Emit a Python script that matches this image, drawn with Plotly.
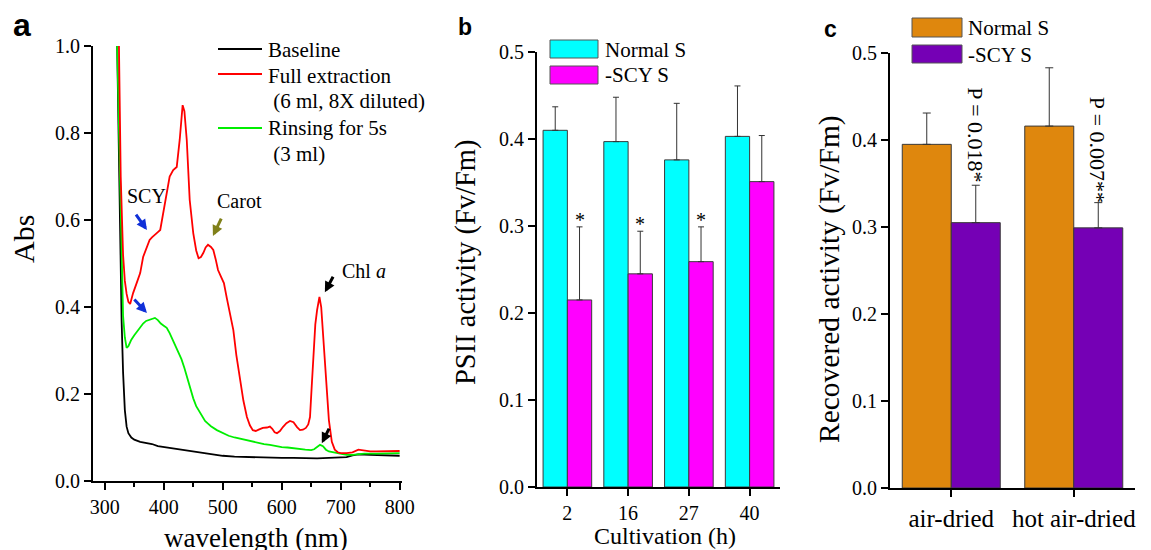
import plotly.graph_objects as go

W, H = 1151, 550
OFF = 8  # the page body has an 8px margin; positions below are in window pixels

# ---------------- Panel a : absorption spectra ----------------
base_nm = [321, 325, 328.5, 331, 334, 337, 340, 345, 350, 360, 370, 380, 390, 400, 410, 420, 430, 440,
           450, 460, 470, 480, 490, 500, 520, 540, 560, 580, 600, 620, 640, 660, 680, 700, 710, 720,
           730, 750, 770, 800]
base_abs = [1.0, 0.65, 0.37, 0.25, 0.163, 0.125, 0.11, 0.1, 0.095, 0.09, 0.088, 0.085, 0.08, 0.078,
            0.077, 0.074, 0.072, 0.07, 0.068, 0.066, 0.064, 0.062, 0.06, 0.058, 0.056, 0.055, 0.054,
            0.054, 0.053, 0.053, 0.052, 0.052, 0.053, 0.054, 0.055, 0.059, 0.061, 0.06, 0.059, 0.058]

full_nm = [324, 327, 331, 334, 337, 340, 343, 348, 354, 360, 365, 370, 376, 380, 385, 390, 394, 399,
           405, 410, 416, 422, 427, 430, 432, 435, 439, 444, 450, 455, 459, 463, 467, 471, 475, 480,
           484, 488, 492, 497, 502, 507, 512, 518, 523, 529, 535, 541, 546, 551, 556, 561, 568, 575,
           580, 584, 588, 592, 597, 602, 608, 614, 620, 626, 631, 636, 641, 645, 648, 651, 654, 657,
           660, 664, 667, 670, 673, 676, 680, 685, 690, 695, 700, 710, 720, 730, 740, 750, 760, 780, 800]
full_abs = [1.0, 0.70, 0.52, 0.46, 0.43, 0.412, 0.407, 0.432, 0.455, 0.478, 0.515, 0.535, 0.554, 0.56,
            0.565, 0.572, 0.577, 0.616, 0.669, 0.70, 0.715, 0.722, 0.784, 0.83, 0.864, 0.85, 0.784,
            0.646, 0.57, 0.53, 0.512, 0.515, 0.524, 0.537, 0.543, 0.538, 0.531, 0.51, 0.485, 0.47,
            0.455, 0.42, 0.385, 0.347, 0.29, 0.232, 0.185, 0.147, 0.128, 0.117, 0.115, 0.118, 0.122,
            0.123, 0.125, 0.12, 0.112, 0.11, 0.115, 0.124, 0.133, 0.138, 0.135, 0.124, 0.117, 0.118,
            0.122, 0.13, 0.147, 0.22, 0.30, 0.36, 0.393, 0.423, 0.40, 0.34, 0.28, 0.21, 0.14, 0.09,
            0.072, 0.066, 0.064, 0.064, 0.066, 0.072, 0.07, 0.068, 0.068, 0.068, 0.069]

rinse_nm = [321, 325, 328.5, 331, 334, 337, 340, 345, 350, 355, 360, 365, 370, 375, 380, 385, 390, 395,
            400, 405, 410, 415, 420, 425, 430, 435, 440, 445, 450, 455, 460, 465, 470, 475, 480, 490,
            500, 510, 520, 530, 540, 550, 560, 570, 580, 590, 600, 610, 620, 630, 640, 650, 655, 660,
            665, 670, 675, 680, 690, 700, 710, 720, 730, 740, 760, 780, 800]
rinse_abs = [1.0, 0.72, 0.49, 0.38, 0.33, 0.306, 0.31, 0.325, 0.335, 0.345, 0.355, 0.362, 0.368, 0.37,
             0.373, 0.375, 0.37, 0.362, 0.357, 0.352, 0.34, 0.325, 0.31, 0.295, 0.28, 0.26, 0.235,
             0.21, 0.19, 0.172, 0.16, 0.148, 0.138, 0.132, 0.126, 0.117, 0.11, 0.104, 0.1, 0.097,
             0.093, 0.09, 0.087, 0.085, 0.083, 0.08, 0.078, 0.077, 0.075, 0.074, 0.072, 0.071, 0.073,
             0.078, 0.083, 0.08, 0.072, 0.068, 0.065, 0.062, 0.06, 0.06, 0.062, 0.063, 0.063, 0.064, 0.064]

spectra_names = ["Baseline", "Full extraction", "Rinsing for 5s"]
spectra_colors = ["#000000", "#FF0000", "#00EE00"]

# ---------------- Panel b : PSII activity ----------------
cult_h = ["2", "16", "27", "40"]
psii_normal = [0.41, 0.397, 0.376, 0.403]
psii_normal_err = [0.027, 0.051, 0.065, 0.058]
psii_scy = [0.215, 0.245, 0.259, 0.351]
psii_scy_err = [0.084, 0.049, 0.040, 0.053]
psii_sig = ["*", "*", "*", ""]

# ---------------- Panel c : recovered activity ----------------
treat = ["air-dried", "hot air-dried"]
rec_normal = [0.395, 0.416]
rec_normal_err = [0.036, 0.067]
rec_scy = [0.305, 0.299]
rec_scy_err = [0.043, 0.029]
rec_p = ["P = 0.018*", "P = 0.007**"]

SERIF = "Liberation Serif, Times New Roman, serif"
SANS = "Liberation Sans, Arial, sans-serif"

for a, b in [(base_nm, base_abs), (full_nm, full_abs), (rinse_nm, rinse_abs)]:
    assert len(a) == len(b)

fig = go.Figure()

for nm, ab, col, name in [(base_nm, base_abs, spectra_colors[0], spectra_names[0]),
                          (rinse_nm, rinse_abs, spectra_colors[2], spectra_names[2]),
                          (full_nm, full_abs, spectra_colors[1], spectra_names[1])]:
    fig.add_trace(go.Scatter(x=nm, y=ab, mode="lines", name=name,
                             line=dict(color=col, width=1.8), xaxis="x", yaxis="y",
                             showlegend=False))

bar_line = dict(color="#3a3a3a", width=1)


def err(arr, w):
    return dict(type="data", symmetric=False, array=arr, arrayminus=[0] * len(arr),
                color="#333333", thickness=1, width=w)


fig.add_trace(go.Bar(x=cult_h, y=psii_normal, name="Normal S", marker=dict(color="#00FFFF", line=bar_line),
                     error_y=err(psii_normal_err, 3), xaxis="x2", yaxis="y2", showlegend=False))
fig.add_trace(go.Bar(x=cult_h, y=psii_scy, name="-SCY S", marker=dict(color="#FF00FF", line=bar_line),
                     error_y=err(psii_scy_err, 3), xaxis="x2", yaxis="y2", showlegend=False))
fig.add_trace(go.Bar(x=treat, y=rec_normal, name="Normal S", marker=dict(color="#DF870D", line=bar_line),
                     error_y=err(rec_normal_err, 4), xaxis="x3", yaxis="y3", showlegend=False))
fig.add_trace(go.Bar(x=treat, y=rec_scy, name="-SCY S", marker=dict(color="#7500B5", line=bar_line),
                     error_y=err(rec_scy_err, 4), xaxis="x3", yaxis="y3", showlegend=False))


def px(v):
    return (v - OFF) / W


def py(v):
    return 1 - (v - OFF) / H


axis_common = dict(showline=True, linecolor="black", linewidth=2, ticks="outside", ticklen=7,
                   tickwidth=2, tickcolor="black", showgrid=False, zeroline=False, automargin=False,
                   tickfont=dict(family=SERIF, size=20, color="black"), mirror=False)

fig.update_layout(
    width=W, height=H, margin=dict(l=0, r=0, t=0, b=0),
    paper_bgcolor="white", plot_bgcolor="white",
    barmode="group", bargap=0.2, bargroupgap=0,
    xaxis=dict(domain=[px(93), px(402)], range=[280, 804], tickvals=[300, 400, 500, 600, 700, 800],
               minor=dict(ticks="outside", ticklen=4, tickwidth=1.5, tickcolor="black", dtick=50, tick0=350),
               anchor="y", **axis_common),
    yaxis=dict(domain=[py(481), py(46)], range=[0, 1.0], dtick=0.2, tickformat=".1f", anchor="x",
               **axis_common),
    xaxis2=dict(domain=[px(537), px(780)], type="category", range=[-0.5, 3.5], anchor="y2", **axis_common),
    yaxis2=dict(domain=[py(487), py(52)], range=[0, 0.5], dtick=0.1, tickformat=".1f", anchor="x2",
                **axis_common),
    xaxis3=dict(domain=[px(890), px(1135)], type="category", range=[-0.5, 1.5], anchor="y3",
                **{**axis_common, "tickfont": dict(family=SERIF, size=25, color="black")}),
    yaxis3=dict(domain=[py(488), py(53)], range=[0, 0.5], dtick=0.1, tickformat=".1f", anchor="x3",
                **axis_common),
)

ann = []
shapes = []


def txt(x, y, text, size, xanchor="center", yanchor="middle", angle=0, family=SERIF, color="black",
        xref="paper", yref="paper", **kw):
    ann.append(dict(x=x, y=y, xref=xref, yref=yref, text=text, showarrow=False, xanchor=xanchor,
                    yanchor=yanchor, textangle=angle, font=dict(family=family, size=size, color=color), **kw))


# panel letters
txt(px(22), py(25), "<b>a</b>", 32, family=SANS)
txt(px(465), py(27), "<b>b</b>", 23, family=SANS)
txt(px(830), py(29), "<b>c</b>", 23, family=SANS)

# axis titles
txt(px(24), py(239), "Abs", 30, angle=-90)
txt(px(256), py(538), "wavelength (nm)", 27)
txt(px(665), py(536), "Cultivation (h)", 24)
txt(px(466), py(263), "PSII activity (Fv/Fm)", 28.5, angle=-90)
txt(px(829), py(279), "Recovered activity (Fv/Fm)", 29.5, angle=-90)

# legend panel a
leg_rows = [(49, spectra_colors[0]), (74, spectra_colors[1]), (128, spectra_colors[2])]
for yy, col in leg_rows:
    shapes.append(dict(type="line", xref="paper", yref="paper", x0=px(218), x1=px(262), y0=py(yy), y1=py(yy),
                       line=dict(color=col, width=2)))
txt(px(266), py(50), "Baseline", 21, xanchor="left")
txt(px(266), py(76), "Full extraction", 21, xanchor="left")
txt(px(266), py(101), " (6 ml, 8X diluted)", 21, xanchor="left")
txt(px(266), py(128), "Rinsing for 5s", 21, xanchor="left")
txt(px(266), py(154), " (3 ml)", 21, xanchor="left")

# legend panel b
for (y0, y1), col, name, ty in [((40, 58), "#00FFFF", "Normal S", 50), ((66, 84), "#FF00FF", "-SCY S", 75)]:
    shapes.append(dict(type="rect", xref="paper", yref="paper", x0=px(550), x1=px(598), y0=py(y1), y1=py(y0),
                       fillcolor=col, line=dict(color="#555555", width=1)))
    txt(px(603), py(ty), name, 21, xanchor="left")

# legend panel c
for (y0, y1), col, name, ty in [((18, 37), "#DF870D", "Normal S", 28), ((45, 63), "#7500B5", "-SCY S", 55)]:
    shapes.append(dict(type="rect", xref="paper", yref="paper", x0=px(912), x1=px(962), y0=py(y1), y1=py(y0),
                       fillcolor=col, line=dict(color="#555555", width=1)))
    txt(px(966), py(ty), name, 21, xanchor="left")

# significance marks panel b
for i, s in enumerate(psii_sig):
    if s:
        txt(i + 0.2, psii_scy[i] + psii_scy_err[i], s, 20, yanchor="bottom", xref="x2", yref="y2", yshift=-6)

# p values panel c
for i, s in enumerate(rec_p):
    yc = [0.4057, 0.3885][i]
    txt(i + 0.2, yc, s, 22, angle=90, xref="x3", yref="y3")

# panel a labels and arrows
txt(370, 0.655, "SCY", 20, xref="x", yref="y")
txt(529, 0.644, "Carot", 20, xref="x", yref="y")
txt(698.5, 0.483, "Chl <i>a</i>", 20, xanchor="left", xref="x", yref="y")


def arrow(x, y, axp, ayp, col):
    ann.append(dict(x=x, y=y, xref="x", yref="y", ax=axp, ay=ayp, showarrow=True, text="",
                    arrowhead=2, arrowsize=0.7, arrowwidth=3, arrowcolor=col))


arrow(371.5, 0.577, -12, -17, "#1030D8")
arrow(371.5, 0.386, -14, -15, "#1030D8")
arrow(483.4, 0.563, 9, -19, "#80801A")
arrow(673.2, 0.434, 9, -17, "#000000")
arrow(668.0, 0.087, 8, -16, "#000000")

fig.update_layout(annotations=ann, shapes=shapes)

fig.write_html("out.html")
